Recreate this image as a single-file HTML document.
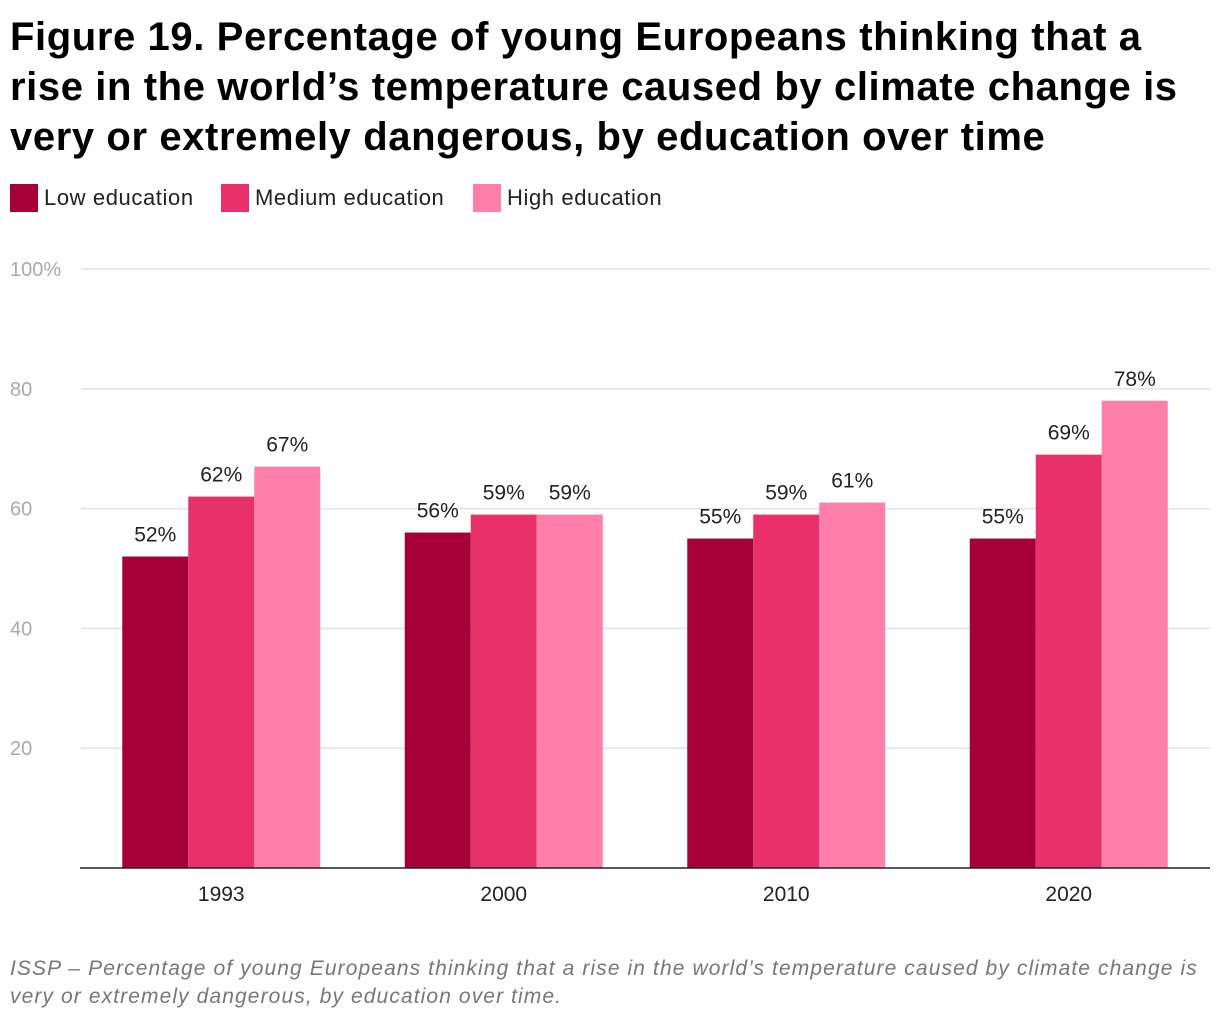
<!DOCTYPE html>
<html><head><meta charset="utf-8"><style>
body{margin:0;width:1220px;height:1020px;background:#fff;font-family:"Liberation Sans",sans-serif;overflow:hidden}
#title{position:absolute;left:10px;top:12px;font-size:40px;font-weight:bold;line-height:50px;color:#000;width:1210px;white-space:nowrap;letter-spacing:0.6px}
.leg{position:absolute;top:184px;height:28px;display:flex;align-items:center;font-size:22px;color:#222;letter-spacing:0.6px}
.sw{width:28px;height:28px;margin-right:6px}
#foot{position:absolute;left:10px;top:955px;font-size:21px;font-style:italic;color:#777;line-height:28px;width:1210px;white-space:nowrap;letter-spacing:1.1px}
</style></head><body>
<div id="title">Figure 19. Percentage of young Europeans thinking that a<br>rise in the world’s temperature caused by climate change is<br>very or extremely dangerous, by education over time</div>
<div class="leg" style="left:10px"><div class="sw" style="background:#a50037"></div>Low education</div>
<div class="leg" style="left:221px"><div class="sw" style="background:#e8306a"></div>Medium education</div>
<div class="leg" style="left:473px"><div class="sw" style="background:#ff7eaa"></div>High education</div>
<svg id="chart" width="1220" height="1020" style="position:absolute;left:0;top:0"></svg>
<div id="foot">ISSP – Percentage of young Europeans thinking that a rise in the world’s temperature caused by climate change is<br>very or extremely dangerous, by education over time.</div>
<script>
const categories=["1993","2000","2010","2020"];
const lowValues=[52,56,55,55];
const mediumValues=[62,59,59,69];
const highValues=[67,59,61,78];
const yTicks=[20,40,60,80,100];
const yTickLabels=["20","40","60","80","100%"];
const seriesColors=["#a50037","#e8306a","#ff7eaa"];
const seriesNames=["low","medium","high"];
const NS="http://www.w3.org/2000/svg";
const svg=document.getElementById('chart');
const x0=80,x1=1210,yTop=269,yBot=868;
const band=(x1-x0)/categories.length;
const barW=66;
function y(v){return yBot-(v/100)*(yBot-yTop);}
function xBand(i){return x0+band*i;}
function mk(t,a){const e=document.createElementNS(NS,t);for(const k in a)e.setAttribute(k,a[k]);svg.appendChild(e);return e;}
yTicks.forEach((t,i)=>{
 const l=mk('line',{x1:x0+1,x2:x1,y1:y(t),y2:y(t),stroke:'#e3e3e3','stroke-width':1.5});
 
 
 const tx=mk('text',{x:10,y:y(t)+7,'font-size':20,fill:'#aaa'});
 tx.textContent=yTickLabels[i];
 
 
});
const all=[lowValues,mediumValues,highValues];
categories.forEach((c,i)=>{
 const cx=xBand(i)+band/2;
 all.forEach((vals,s)=>{
  const bx=cx-1.5*barW+s*barW;
  const r=mk('rect',{x:bx,y:y(vals[i]),width:barW,height:yBot-y(vals[i]),fill:seriesColors[s]});
  
  
  const t=mk('text',{x:bx+barW/2,y:y(vals[i])-15,'font-size':21,fill:'#222','text-anchor':'middle'});
  t.textContent=vals[i]+'%';
  
  
 });
 const t=mk('text',{x:cx,y:901,'font-size':21,fill:'#222','text-anchor':'middle'});
 t.textContent=c;
 
 
});
const ax=mk('line',{x1:x0,x2:x1,y1:yBot,y2:yBot,stroke:'#222','stroke-width':1.5});


</script>
</body></html>
